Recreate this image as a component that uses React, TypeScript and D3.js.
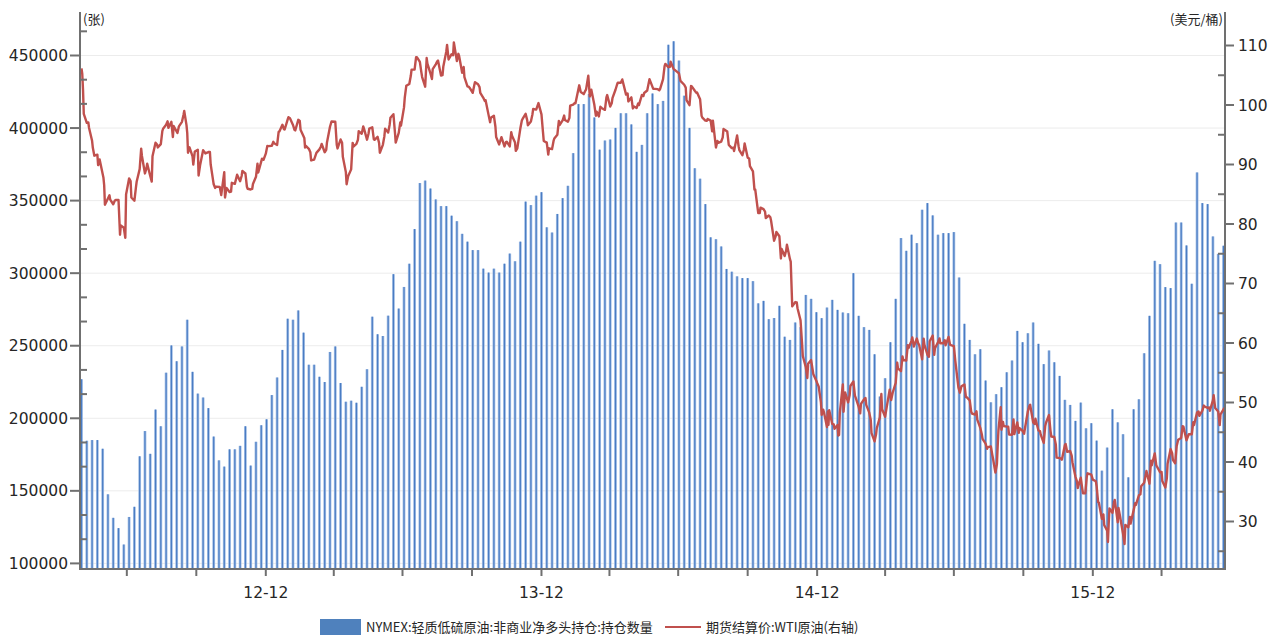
import React, { useEffect } from "react";
import * as d3 from "d3";

// ---------- DATA ----------
const cotStart = "2012-05-01"; // weekly (Tuesday) CFTC report dates
const netLong: number[] = [
  226900, 184500, 185000, 185000, 179000, 147600, 131400, 124300, 113000, 132000,
  139000, 173800, 191200, 175500, 206000, 194500, 231400, 250200, 239300, 249500,
  267900, 232000, 217000, 214300, 207000, 187400, 171000, 166700, 178600, 178600,
  181000, 194500, 167400, 183800, 195200, 199300, 216000, 228100, 247100, 268600,
  267900, 274300, 259000, 236900, 236900, 228600, 225000, 245700, 249500, 224300,
  211400, 212100, 210700, 221700, 233800, 270000, 257900, 256700, 270700, 299300,
  275600, 290500, 306500, 330400, 362100, 363800, 358300, 350800, 346200, 346200,
  339600, 335800, 327100, 321700, 315900, 315900, 303100, 300400, 303100, 300400,
  306500, 313500, 308200, 321700, 349300, 346900, 353400, 355800, 331600, 328000,
  340800, 351700, 360200, 382700, 416500, 416500, 423500, 407300, 385100, 391400,
  392100, 400100, 410200, 410200, 402500, 383600, 388400, 410200, 423800, 416500,
  418700, 457400, 459800, 446500, 422300, 400100, 372300, 365100, 347600, 324700,
  323400, 318400, 302900, 301000, 297800, 296600, 296600, 294500, 279200, 280900,
  268300, 269100, 277500, 256200, 254000, 266000, 262800, 285000, 282300, 273100,
  269000, 276300, 281600, 274700, 272900, 272400, 300000, 270600, 262800, 260900,
  244100, 215000, 227600, 252400, 282300, 324200, 315400, 326500, 320700, 343700,
  348300, 339800, 326500, 327600, 327600, 328300, 297000, 265100, 254000, 244100,
  247600, 226000, 211000, 216600, 221400, 231700, 239800, 260200, 252400, 258600,
  266000, 251300, 237300, 246700, 238600, 229200, 212700, 209200, 198200, 210800,
  193100, 196600, 184600, 163900, 179800, 206200, 197200, 189000, 159300, 206200,
  213100, 244800, 270600, 308500, 306200, 290400, 289700, 334900, 334900, 319100,
  292700, 369400, 348300, 347600, 325300, 313300, 318900,
];

type Pt = [string, number];
const wti2012: Pt[] = [
  ["2012-05-01",106.16],["2012-05-02",105.22],["2012-05-03",102.54],["2012-05-04",98.49],["2012-05-08",97.01],["2012-05-10",97.08],["2012-05-11",96.13],["2012-05-15",93.98],["2012-05-16",92.81],["2012-05-18",91.48],["2012-05-22",91.66],["2012-05-23",89.9],["2012-05-25",90.86],["2012-05-30",87.82],["2012-05-31",86.53],
  ["2012-06-01",83.23],["2012-06-05",84.29],["2012-06-07",84.82],["2012-06-08",84.1],["2012-06-12",83.32],["2012-06-14",83.91],["2012-06-15",84.03],["2012-06-19",84.03],["2012-06-21",78.2],["2012-06-22",79.76],["2012-06-26",79.36],["2012-06-28",77.69],["2012-06-29",84.96],
  ["2012-07-03",87.66],["2012-07-05",87.22],["2012-07-06",84.45],["2012-07-10",83.91],["2012-07-12",86.08],["2012-07-13",87.1],["2012-07-17",89.22],["2012-07-19",92.66],["2012-07-20",91.44],["2012-07-24",88.5],["2012-07-26",89.39],["2012-07-27",90.13],["2012-07-31",88.06],
  ["2012-08-02",87.13],["2012-08-03",91.4],["2012-08-07",93.67],["2012-08-09",93.36],["2012-08-10",92.87],["2012-08-14",93.43],["2012-08-16",95.6],["2012-08-17",96.01],["2012-08-21",96.68],["2012-08-23",97.26],["2012-08-24",96.15],["2012-08-28",97.18],["2012-08-30",94.62],["2012-08-31",96.47],
  ["2012-09-05",95.3],["2012-09-07",96.42],["2012-09-11",97.17],["2012-09-13",98.31],["2012-09-14",99.0],["2012-09-17",96.62],["2012-09-18",95.29],["2012-09-19",91.98],["2012-09-21",92.89],["2012-09-25",91.37],["2012-09-26",89.98],["2012-09-28",92.19],
  ["2012-10-02",92.48],["2012-10-03",88.14],["2012-10-05",89.88],["2012-10-09",92.39],["2012-10-11",92.07],["2012-10-12",91.86],["2012-10-16",92.09],["2012-10-18",92.1],["2012-10-19",90.05],["2012-10-23",86.67],["2012-10-25",86.05],["2012-10-26",86.28],["2012-10-31",86.24],
  ["2012-11-02",84.86],["2012-11-06",88.71],["2012-11-07",84.44],["2012-11-09",86.07],["2012-11-13",85.38],["2012-11-15",85.45],["2012-11-16",86.92],["2012-11-20",86.75],["2012-11-23",88.28],["2012-11-27",87.18],["2012-11-29",88.07],["2012-11-30",88.91],
  ["2012-12-04",88.49],["2012-12-06",86.26],["2012-12-07",85.93],["2012-12-11",85.8],["2012-12-13",85.89],["2012-12-14",86.73],["2012-12-18",87.93],["2012-12-20",90.13],["2012-12-21",88.66],["2012-12-26",90.98],["2012-12-28",90.8],["2012-12-31",91.82],
];
const wti2013: Pt[] = [
  ["2013-01-02",93.12],["2013-01-04",93.09],["2013-01-08",93.15],["2013-01-10",93.82],["2013-01-11",93.56],["2013-01-15",93.28],["2013-01-17",95.49],["2013-01-18",95.56],["2013-01-22",96.68],["2013-01-24",95.95],["2013-01-25",95.88],["2013-01-29",97.57],["2013-01-30",97.94],
  ["2013-02-01",97.77],["2013-02-05",96.64],["2013-02-07",95.83],["2013-02-08",95.72],["2013-02-12",97.51],["2013-02-14",97.31],["2013-02-15",95.86],["2013-02-20",94.46],["2013-02-21",92.84],["2013-02-22",93.13],["2013-02-26",92.63],["2013-02-28",92.05],
  ["2013-03-01",90.68],["2013-03-05",90.82],["2013-03-07",91.56],["2013-03-08",91.95],["2013-03-12",92.54],["2013-03-14",93.03],["2013-03-15",93.45],["2013-03-19",92.06],["2013-03-21",92.45],["2013-03-22",93.71],["2013-03-26",96.34],["2013-03-28",97.23],
  ["2013-04-02",97.19],["2013-04-04",93.26],["2013-04-05",92.7],["2013-04-09",94.2],["2013-04-11",93.64],["2013-04-12",91.29],["2013-04-16",88.72],["2013-04-17",86.68],["2013-04-19",88.01],["2013-04-23",89.18],["2013-04-25",93.64],["2013-04-26",93.0],["2013-04-30",93.46],
  ["2013-05-02",94.16],["2013-05-03",95.61],["2013-05-07",95.16],["2013-05-09",96.39],["2013-05-10",96.04],["2013-05-14",94.17],["2013-05-16",95.16],["2013-05-17",96.02],["2013-05-21",96.25],["2013-05-23",94.25],["2013-05-24",94.15],["2013-05-28",94.65],["2013-05-30",93.61],["2013-05-31",91.97],
  ["2013-06-04",93.31],["2013-06-06",94.76],["2013-06-07",96.03],["2013-06-11",95.38],["2013-06-13",96.69],["2013-06-14",97.85],["2013-06-18",98.44],["2013-06-20",95.4],["2013-06-21",93.69],["2013-06-25",95.32],["2013-06-27",97.05],["2013-06-28",96.56],
  ["2013-07-02",99.6],["2013-07-03",101.24],["2013-07-05",103.22],["2013-07-09",103.53],["2013-07-11",104.91],["2013-07-12",105.95],["2013-07-16",105.96],["2013-07-18",108.04],["2013-07-19",108.05],["2013-07-23",107.23],["2013-07-25",105.49],["2013-07-26",104.7],["2013-07-30",103.08],
  ["2013-08-01",107.89],["2013-08-02",106.94],["2013-08-06",105.3],["2013-08-08",104.37],["2013-08-09",106.03],["2013-08-13",106.83],["2013-08-15",107.33],["2013-08-16",107.46],["2013-08-20",104.96],["2013-08-22",105.03],["2013-08-23",106.42],["2013-08-27",109.01],["2013-08-28",110.1],["2013-08-30",107.65],
  ["2013-09-03",108.54],["2013-09-05",108.37],["2013-09-06",110.53],["2013-09-10",107.39],["2013-09-12",108.6],["2013-09-13",108.21],["2013-09-17",105.42],["2013-09-19",106.39],["2013-09-20",104.67],["2013-09-24",103.13],["2013-09-26",103.03],["2013-09-27",102.87],
  ["2013-10-01",102.04],["2013-10-03",103.31],["2013-10-04",103.84],["2013-10-08",103.49],["2013-10-10",103.01],["2013-10-11",102.02],["2013-10-15",101.21],["2013-10-17",100.67],["2013-10-18",100.81],["2013-10-22",98.3],["2013-10-24",97.11],["2013-10-25",97.85],["2013-10-29",98.2],["2013-10-31",96.38],
  ["2013-11-01",94.61],["2013-11-05",93.37],["2013-11-07",94.2],["2013-11-08",94.6],["2013-11-12",93.04],["2013-11-14",93.76],["2013-11-15",93.84],["2013-11-19",93.03],["2013-11-21",95.44],["2013-11-22",94.84],["2013-11-26",93.68],["2013-11-27",92.3],["2013-11-29",92.72],
  ["2013-12-03",96.04],["2013-12-05",97.38],["2013-12-06",97.65],["2013-12-10",98.51],["2013-12-12",97.5],["2013-12-13",96.6],["2013-12-17",97.22],["2013-12-19",98.4],["2013-12-20",99.32],["2013-12-24",99.22],["2013-12-27",100.32],["2013-12-31",98.42],
];
const wti2014: Pt[] = [
  ["2014-01-02",95.44],["2014-01-03",93.96],["2014-01-07",93.67],["2014-01-09",91.66],["2014-01-10",92.72],["2014-01-14",92.59],["2014-01-16",93.96],["2014-01-17",94.37],["2014-01-21",94.99],["2014-01-23",97.32],["2014-01-24",96.64],["2014-01-28",97.41],["2014-01-30",98.23],["2014-01-31",97.49],
  ["2014-02-04",97.19],["2014-02-06",97.84],["2014-02-07",99.88],["2014-02-11",100.06],["2014-02-13",100.35],["2014-02-14",100.3],["2014-02-19",103.31],["2014-02-21",102.2],["2014-02-25",101.83],["2014-02-27",102.4],["2014-02-28",102.59],
  ["2014-03-03",104.92],["2014-03-05",101.45],["2014-03-07",102.58],["2014-03-11",100.03],["2014-03-13",98.2],["2014-03-14",98.89],["2014-03-17",98.08],["2014-03-19",99.7],["2014-03-21",99.46],["2014-03-25",99.19],["2014-03-27",101.28],["2014-03-28",101.67],
  ["2014-04-01",99.74],["2014-04-03",100.29],["2014-04-04",101.14],["2014-04-08",102.56],["2014-04-10",103.4],["2014-04-11",103.74],["2014-04-15",103.75],["2014-04-17",104.3],["2014-04-22",101.75],["2014-04-24",101.94],["2014-04-25",100.6],["2014-04-29",101.28],
  ["2014-05-01",99.42],["2014-05-02",99.76],["2014-05-06",99.5],["2014-05-08",100.26],["2014-05-09",99.99],["2014-05-13",101.7],["2014-05-15",101.5],["2014-05-16",102.02],["2014-05-20",102.44],["2014-05-22",103.72],["2014-05-23",104.35],["2014-05-28",102.72],["2014-05-30",102.71],
  ["2014-06-03",102.66],["2014-06-05",102.48],["2014-06-06",102.66],["2014-06-10",104.35],["2014-06-12",106.53],["2014-06-13",106.91],["2014-06-17",106.36],["2014-06-19",106.43],["2014-06-20",107.26],["2014-06-24",106.03],["2014-06-26",105.84],["2014-06-27",105.74],
  ["2014-07-01",105.34],["2014-07-03",104.06],["2014-07-08",103.4],["2014-07-10",102.93],["2014-07-11",100.83],["2014-07-15",99.96],["2014-07-17",103.19],["2014-07-18",103.13],["2014-07-22",102.39],["2014-07-24",102.07],["2014-07-25",102.09],["2014-07-29",100.97],["2014-07-31",98.17],
  ["2014-08-01",97.88],["2014-08-05",97.38],["2014-08-07",97.34],["2014-08-08",97.65],["2014-08-12",97.37],["2014-08-14",95.58],["2014-08-15",97.35],["2014-08-19",92.86],["2014-08-21",93.96],["2014-08-22",93.65],["2014-08-26",93.86],["2014-08-28",94.55],["2014-08-29",95.96],
  ["2014-09-03",95.54],["2014-09-05",93.29],["2014-09-09",92.75],["2014-09-11",92.83],["2014-09-12",92.27],["2014-09-16",94.88],["2014-09-18",93.07],["2014-09-19",92.41],["2014-09-23",91.56],["2014-09-25",92.53],["2014-09-26",93.54],["2014-09-30",91.16],
  ["2014-10-02",91.01],["2014-10-03",89.74],["2014-10-07",88.85],["2014-10-09",85.77],["2014-10-10",85.82],["2014-10-14",81.84],["2014-10-16",81.84],["2014-10-17",82.75],["2014-10-21",82.49],["2014-10-23",82.09],["2014-10-24",81.01],["2014-10-28",81.42],["2014-10-30",81.12],["2014-10-31",80.54],
  ["2014-11-04",77.19],["2014-11-06",77.91],["2014-11-07",78.65],["2014-11-11",77.94],["2014-11-13",74.21],["2014-11-14",75.82],["2014-11-18",74.61],["2014-11-20",75.58],["2014-11-21",76.51],["2014-11-25",74.09],["2014-11-26",73.69],["2014-11-28",66.15],
  ["2014-12-02",66.88],["2014-12-04",66.81],["2014-12-05",65.84],["2014-12-09",63.82],["2014-12-11",59.95],["2014-12-12",57.81],["2014-12-16",55.93],["2014-12-18",54.11],["2014-12-19",56.52],["2014-12-23",57.12],["2014-12-26",54.73],["2014-12-30",53.61],["2014-12-31",53.27],
];
const wti2015: Pt[] = [
  ["2015-01-02",52.69],["2015-01-05",50.04],["2015-01-06",47.93],["2015-01-08",48.79],["2015-01-09",48.36],["2015-01-13",45.89],["2015-01-14",48.48],["2015-01-15",46.25],["2015-01-16",48.69],["2015-01-20",46.39],["2015-01-22",46.31],["2015-01-23",45.59],["2015-01-27",46.23],["2015-01-28",44.45],["2015-01-29",44.53],["2015-01-30",48.24],
  ["2015-02-03",53.05],["2015-02-04",48.45],["2015-02-06",51.69],["2015-02-10",50.02],["2015-02-12",51.21],["2015-02-13",52.78],["2015-02-17",53.53],["2015-02-19",51.16],["2015-02-20",50.81],["2015-02-24",49.25],["2015-02-26",48.17],["2015-02-27",49.76],
  ["2015-03-03",50.52],["2015-03-05",50.76],["2015-03-06",49.61],["2015-03-10",48.29],["2015-03-12",47.05],["2015-03-13",44.84],["2015-03-17",43.46],["2015-03-19",44.66],["2015-03-20",45.72],["2015-03-24",47.51],["2015-03-26",51.43],["2015-03-27",48.87],["2015-03-31",47.6],
  ["2015-04-02",49.14],["2015-04-06",52.14],["2015-04-08",50.42],["2015-04-10",51.64],["2015-04-14",53.29],["2015-04-16",56.71],["2015-04-17",55.74],["2015-04-21",55.26],["2015-04-23",57.74],["2015-04-24",57.15],["2015-04-28",57.06],["2015-04-30",59.63],
  ["2015-05-01",59.15],["2015-05-05",60.4],["2015-05-06",60.93],["2015-05-08",59.39],["2015-05-12",60.75],["2015-05-14",59.88],["2015-05-15",59.69],["2015-05-19",57.26],["2015-05-21",60.72],["2015-05-22",59.72],["2015-05-26",58.03],["2015-05-28",57.68],["2015-05-29",60.3],
  ["2015-06-02",61.26],["2015-06-04",58.0],["2015-06-05",59.13],["2015-06-09",60.14],["2015-06-11",60.77],["2015-06-12",59.96],["2015-06-16",59.97],["2015-06-18",60.45],["2015-06-19",59.61],["2015-06-23",61.01],["2015-06-25",59.7],["2015-06-26",59.63],["2015-06-30",59.47],
  ["2015-07-02",56.93],["2015-07-06",52.53],["2015-07-08",51.65],["2015-07-10",52.74],["2015-07-14",53.04],["2015-07-16",50.91],["2015-07-17",50.89],["2015-07-21",50.36],["2015-07-23",48.45],["2015-07-24",48.14],["2015-07-28",47.98],["2015-07-30",48.52],["2015-07-31",47.12],
  ["2015-08-04",45.74],["2015-08-06",44.66],["2015-08-07",43.87],["2015-08-11",43.08],["2015-08-13",42.23],["2015-08-14",42.5],["2015-08-18",42.62],["2015-08-20",41.14],["2015-08-21",40.45],["2015-08-24",38.24],["2015-08-26",39.6],["2015-08-27",42.56],["2015-08-28",45.22],["2015-08-31",49.2],
  ["2015-09-01",45.41],["2015-09-03",46.75],["2015-09-04",46.05],["2015-09-08",45.94],["2015-09-10",45.92],["2015-09-11",44.63],["2015-09-15",44.59],["2015-09-17",47.15],["2015-09-18",44.68],["2015-09-22",46.66],["2015-09-24",44.91],["2015-09-25",45.7],["2015-09-29",45.23],
  ["2015-10-01",44.74],["2015-10-02",45.54],["2015-10-06",48.53],["2015-10-08",49.43],["2015-10-09",49.63],["2015-10-13",46.66],["2015-10-15",46.38],["2015-10-16",47.26],["2015-10-20",45.29],["2015-10-22",45.2],["2015-10-23",44.6],["2015-10-27",43.2],["2015-10-29",46.06],["2015-10-30",46.59],
  ["2015-11-03",47.9],["2015-11-05",45.2],["2015-11-06",44.29],["2015-11-10",44.21],["2015-11-12",42.93],["2015-11-13",40.74],["2015-11-17",40.67],["2015-11-19",40.54],["2015-11-20",40.39],["2015-11-24",42.87],["2015-11-25",43.04],["2015-11-27",41.71],
  ["2015-12-01",41.85],["2015-12-03",41.08],["2015-12-04",39.97],["2015-12-08",37.51],["2015-12-10",36.76],["2015-12-11",35.62],["2015-12-15",37.35],["2015-12-17",35.52],["2015-12-18",34.73],["2015-12-21",34.74],["2015-12-23",37.5],["2015-12-24",38.1],["2015-12-29",37.87],["2015-12-31",37.04],
];
const wti2016: Pt[] = [
  ["2016-01-04",36.76],["2016-01-05",35.97],["2016-01-07",33.27],["2016-01-08",33.16],["2016-01-12",30.44],["2016-01-14",31.2],["2016-01-15",29.42],["2016-01-19",28.46],["2016-01-20",26.55],["2016-01-21",29.53],["2016-01-22",32.19],["2016-01-26",31.45],["2016-01-28",33.22],["2016-01-29",33.62],
  ["2016-02-02",29.88],["2016-02-03",32.28],["2016-02-05",30.89],["2016-02-09",27.94],["2016-02-11",26.21],["2016-02-12",29.44],["2016-02-16",29.04],["2016-02-18",30.77],["2016-02-19",29.64],["2016-02-23",31.87],["2016-02-25",33.07],["2016-02-26",32.78],
  ["2016-03-01",34.4],["2016-03-03",34.57],["2016-03-04",35.92],["2016-03-08",36.5],["2016-03-10",37.84],["2016-03-11",38.5],["2016-03-15",36.34],["2016-03-17",40.2],["2016-03-18",39.44],["2016-03-22",41.45],["2016-03-24",39.46],["2016-03-29",38.28],["2016-03-31",38.34],
  ["2016-04-01",36.79],["2016-04-05",35.7],["2016-04-07",37.26],["2016-04-08",39.72],["2016-04-12",42.17],["2016-04-14",41.5],["2016-04-15",40.36],["2016-04-18",39.78],["2016-04-20",42.63],["2016-04-22",43.73],["2016-04-26",44.04],["2016-04-28",46.03],["2016-04-29",45.92],
  ["2016-05-03",43.65],["2016-05-05",44.32],["2016-05-06",44.66],["2016-05-10",44.66],["2016-05-12",46.7],["2016-05-13",46.21],["2016-05-17",48.31],["2016-05-19",48.49],["2016-05-20",47.75],["2016-05-24",48.62],["2016-05-26",49.48],["2016-05-27",49.33],["2016-05-31",49.1],
  ["2016-06-02",49.17],["2016-06-03",48.62],["2016-06-07",50.36],["2016-06-08",51.23],["2016-06-10",49.07],["2016-06-14",48.49],["2016-06-16",46.21],["2016-06-17",47.98],["2016-06-21",48.85],["2016-06-22",49.13],
];

const leftTicks = [100000, 150000, 200000, 250000, 300000, 350000, 400000, 450000];
const rightTicks = [30, 40, 50, 60, 70, 80, 90, 100, 110];
const barName = "NYMEX:轻质低硫原油:非商业净多头持仓:持仓数量";
const lineName = "期货结算价:WTI原油(右轴)";
const leftUnit = "(张)";
const rightUnit = "(美元/桶)";

// ---------- CHART ----------
const W = 1282;
const H = 637;
const plot = { left: 80, right: 1225, top: 12, bottom: 569 };
const BAR = "#4f81bd";
const BAR_EDGE = "#a3bfe6";
const BAR_CORE = "#4a7cc3";
const LINE = "#c0504d";
const AXIS = "#707070";
const TEXT = "#262626";
const NUM_FONT = "'DejaVu Sans', Verdana, sans-serif";
const CJK_FONT = "'Noto Sans CJK SC', 'Microsoft YaHei', sans-serif";

const parse = d3.timeParse("%Y-%m-%d");

export default function App() {
  useEffect(() => {
    document.body.style.margin = "0";
    document.body.style.background = "#ffffff";
  }, []);

  const x = d3
    .scaleTime()
    .domain([parse("2012-04-29") as Date, parse("2016-06-23") as Date])
    .range([plot.left, plot.right]);
  const yL = d3.scaleLinear().domain([100000, 450000]).range([563.4, 55.5]);
  const yR = d3.scaleLinear().domain([30, 110]).range([521.5, 45.5]);

  const start = parse(cotStart) as Date;
  const bars = netLong.map((v, i) => ({ d: d3.timeWeek.offset(start, i), v }));

  const wti = [...wti2012, ...wti2013, ...wti2014, ...wti2015, ...wti2016].map(
    ([d, v]) => ({ d: parse(d) as Date, v })
  );
  const linePath = d3
    .line<{ d: Date; v: number }>()
    .x((p) => x(p.d))
    .y((p) => yR(p.v))(wti) as string;

  // quarter-end ticks
  const qStarts = d3
    .timeMonth.range(parse("2012-07-01") as Date, parse("2016-07-02") as Date)
    .filter((d) => d.getMonth() % 3 === 0);
  const xTicks = qStarts
    .map((d) => d3.timeDay.offset(d, -1))
    .filter((d) => x(d) > plot.left && x(d) < plot.right);
  const fmt = d3.timeFormat("%y-%m");

  // minor ticks
  const lTop = yL.invert(plot.top);
  const leftMinor: number[] = [];
  for (let v = 100000; v <= lTop; v += 50000 / 3) leftMinor.push(v);
  const rightMinor: number[] = [];
  for (let v = 25; v <= 105; v += 10) rightMinor.push(v);

  return (
    <svg width={W} height={H} style={{ display: "block", background: "#fff" }}>
      {/* grid */}
      {leftTicks.map((t) => (
        <line key={"g" + t} x1={plot.left} x2={plot.right} y1={yL(t)} y2={yL(t)} stroke="#ececec" strokeWidth={1} />
      ))}

      {/* bars */}
      {bars.map((b, i) => (
        <g key={"b" + i}>
          <rect x={x(b.d) - 1.4} y={yL(b.v)} width={2.8} height={plot.bottom - yL(b.v)} fill={BAR_EDGE} />
          <rect x={x(b.d) - 0.6} y={yL(b.v)} width={1.2} height={plot.bottom - yL(b.v)} fill={BAR_CORE} />
        </g>
      ))}

      {/* line */}
      <path d={linePath} fill="none" stroke={LINE} strokeWidth={2.4} strokeLinejoin="round" />

      {/* axes */}
      <line x1={plot.left} x2={plot.left} y1={plot.top} y2={plot.bottom} stroke={AXIS} strokeWidth={2} />
      <line x1={plot.right} x2={plot.right} y1={plot.top} y2={plot.bottom} stroke={AXIS} strokeWidth={2} />
      <line x1={plot.left - 1} x2={plot.right + 1} y1={plot.bottom} y2={plot.bottom} stroke={AXIS} strokeWidth={2} />

      {/* left axis */}
      {leftTicks.map((t) => (
        <g key={"l" + t}>
          <line x1={plot.left - 10} x2={plot.left} y1={yL(t)} y2={yL(t)} stroke={AXIS} strokeWidth={2} />
          <text x={plot.left - 12} y={yL(t)} dy="0.36em" textAnchor="end" fontFamily={NUM_FONT} fontSize={15.5} fill={TEXT}>
            {t}
          </text>
        </g>
      ))}
      {leftMinor.filter((v) => !leftTicks.some((t) => Math.abs(t - v) < 1)).map((v, i) => (
        <line key={"lm" + i} x1={plot.left} x2={plot.left + 7} y1={yL(v)} y2={yL(v)} stroke={AXIS} strokeWidth={2} />
      ))}

      {/* right axis */}
      {rightTicks.map((t) => (
        <g key={"r" + t}>
          <line x1={plot.right} x2={plot.right + 9} y1={yR(t)} y2={yR(t)} stroke={AXIS} strokeWidth={2} />
          <text x={plot.right + 13} y={yR(t)} dy="0.36em" textAnchor="start" fontFamily={NUM_FONT} fontSize={15.5} fill={TEXT}>
            {t}
          </text>
        </g>
      ))}
      {rightMinor.map((v) => (
        <line key={"rm" + v} x1={plot.right - 7} x2={plot.right} y1={yR(v)} y2={yR(v)} stroke={AXIS} strokeWidth={2} />
      ))}

      {/* x axis */}
      {xTicks.map((d, i) => (
        <g key={"x" + i}>
          <line x1={x(d)} x2={x(d)} y1={plot.bottom} y2={plot.bottom + 7} stroke={AXIS} strokeWidth={2} />
          {d.getMonth() === 11 && (
            <text x={x(d)} y={plot.bottom + 29} textAnchor="middle" fontFamily={NUM_FONT} fontSize={15.5} fill={TEXT}>
              {fmt(d)}
            </text>
          )}
        </g>
      ))}

      {/* units */}
      <text x={plot.left + 3} y={24} fontFamily={CJK_FONT} fontSize={13} fill={TEXT}>{leftUnit}</text>
      <text x={plot.right - 2} y={24} textAnchor="end" fontFamily={CJK_FONT} fontSize={13} fill={TEXT}>{rightUnit}</text>

      {/* legend */}
      <rect x={320} y={619} width={41} height={16} fill={BAR} />
      <text x={366} y={632} fontFamily={CJK_FONT} fontSize={13} fill={TEXT}>{barName}</text>
      <line x1={665} x2={701} y1={627} y2={627} stroke={LINE} strokeWidth={2} />
      <text x={706} y={632} fontFamily={CJK_FONT} fontSize={13} fill={TEXT}>{lineName}</text>
    </svg>
  );
}
